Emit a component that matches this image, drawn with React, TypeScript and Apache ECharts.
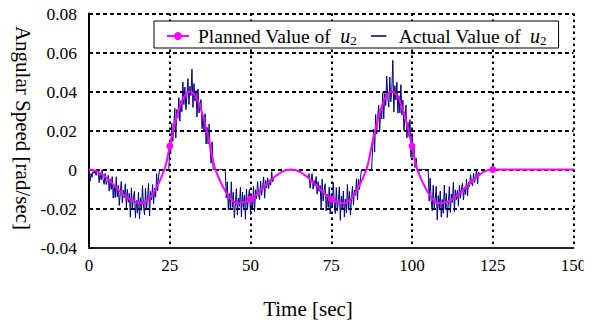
import React, { useEffect, useRef } from "react";
import * as echarts from "echarts";

const PLANNED_NAME = "Planned Value of u2";
const ACTUAL_NAME = "Actual Value of u2";
const X_AXIS_NAME = "Time [sec]";
const Y_AXIS_NAME = "Angular Speed [rad/sec]";

const X_MIN = 0;
const X_MAX = 150;
const X_INTERVAL = 25;
const Y_MIN = -0.04;
const Y_MAX = 0.08;
const Y_INTERVAL = 0.02;

// planned trajectory, sampled every 1.25 s from 0 to 125 s
const PLANNED_STEP = 1.25;
const plannedValues = [
  0, -0.0003, -0.001, -0.0022, -0.0037, -0.0056, -0.0076, -0.0097, -0.0117, -0.0136,
  -0.0151, -0.0163, -0.017, -0.0173, -0.0167, -0.0148, -0.0119, -0.0081, -0.0037, 0.002,
  0.012, 0.0212, 0.029, 0.035, 0.0387, 0.04, 0.0387, 0.035, 0.029, 0.0212,
  0.012, 0.002, -0.0037, -0.0081, -0.0119, -0.0148, -0.0167, -0.0173, -0.017, -0.0163,
  -0.0151, -0.0136, -0.0117, -0.0097, -0.0076, -0.0056, -0.0037, -0.0022, -0.001, -0.0003,
  0, -0.0003, -0.001, -0.0022, -0.0037, -0.0056, -0.0076, -0.0097, -0.0117, -0.0136,
  -0.0151, -0.0163, -0.017, -0.0173, -0.0167, -0.0148, -0.0119, -0.0081, -0.0037, 0.002,
  0.012, 0.0212, 0.029, 0.035, 0.0387, 0.04, 0.0387, 0.035, 0.029, 0.0212,
  0.012, 0.002, -0.0037, -0.0081, -0.0119, -0.0148, -0.0167, -0.0173, -0.017, -0.0163,
  -0.0151, -0.0136, -0.0117, -0.0097, -0.0076, -0.0056, -0.0037, -0.0022, -0.001, -0.0003,
  0,
];
const plannedTailTimes = [137.5, 150];
const plannedTailValues = [0, 0];
const markerTimes = [25, 50, 75, 100, 125];

// measured (noisy) trajectory, sampled every 0.3125 s from 0 to 121.25 s
const ACTUAL_STEP = 0.3125;
const actualValues = [
  // 0 s
  0, -0.006, -0.002, -0.004, -0.001, -0.002, -0.0005, -0.003, -0.001,
  // 2.8 s
  -0.0004, -0.0067, -0.0022, -0.0053, -0.0001, -0.0053, -0.0076, -0.002, -0.0077, -0.0058, -0.003, -0.0111,
  -0.0048, -0.0102, -0.0037, -0.0147, -0.0082, -0.0144, -0.0037, -0.014, -0.0082, -0.0185,
  -0.0119, -0.0061, -0.0171, -0.0106, -0.0145, -0.0073, -0.0196, -0.0102, -0.0168, -0.0123,
  -0.0244, -0.0094, -0.0205, -0.0145, -0.0111, -0.0248, -0.0159, -0.0224, -0.0117, -0.0253,
  -0.0145, -0.0209, -0.0082, -0.0188, -0.0232, -0.0095, -0.0207, -0.0149, -0.0072, -0.0238,
  -0.0113, -0.0155, -0.0077, -0.0175, -0.0096, -0.0142, -0.0021, -0.0109, -0.0035,
  // 21.9 s dead zone
  0, 0, 0, 0, 0, 0, 0, 0, 0, 0,
  // 25 s
  0.0102, 0.008, 0.0238, 0.0144, 0.0221, 0.0313, 0.0161, 0.0307, 0.0263, 0.0368,
  0.0248, 0.0353, 0.0296, 0.0449, 0.0333, 0.0423, 0.0306, 0.0381, 0.0466, 0.0334,
  0.0427, 0.0379, 0.0515, 0.0318, 0.0441, 0.0351, 0.0405, 0.0269, 0.0413, 0.029,
  0.0338, 0.0359, 0.0209, 0.028, 0.0197, 0.0286, 0.0131, 0.0216, 0.013, 0.0233,
  0.0102, 0.0032, 0.0142,
  // 38.4 s dead zone
  0, 0, 0, 0, 0, 0, 0, 0, 0, 0, 0, 0, 0,
  // 42.5 s
  -0.0146, -0.0063, -0.0206, -0.0123, -0.0202, -0.0063, -0.0194, -0.0117, -0.0248, -0.0177,
  -0.0098, -0.0234, -0.0146, -0.019, -0.0091, -0.0243, -0.0116, -0.0195, -0.0131, -0.0255,
  -0.01, -0.0205, -0.0139, -0.01, -0.0232, -0.0138, -0.0198, -0.0086, -0.0217, -0.0104,
  -0.0151, -0.0062, -0.0129, -0.0154, -0.0059, -0.0132, -0.0091, -0.0038, -0.0147, -0.0057,
  -0.0094, -0.0043, -0.0098, -0.0053, -0.008, -0.0011, -0.0063,
  // 57.2 s tracking
  -0.0042, -0.0037, -0.0033, -0.003, -0.0026, -0.0022, -0.0019, -0.0016, -0.0013, -0.001,
  -0.0008, -0.0007, -0.0005, -0.0003, -0.0002, -0.0002, -0.0001, 0, -0.0001, -0.0002,
  -0.0002, -0.0003, -0.0005, -0.0007, -0.0008, -0.001, -0.0013, -0.0016, -0.0019, -0.0022,
  -0.0026, -0.003, -0.0033, -0.0037, -0.0042,
  // 68.1 s
  -0.0022, -0.0096, -0.0061, -0.0021, -0.0101, -0.0056, -0.0086, -0.0036, -0.0127, -0.0062, -0.0112, -0.0082,
  -0.0197, -0.0049, -0.0162, -0.0104, -0.0073, -0.0212, -0.0127, -0.0194, -0.009, -0.0228,
  -0.0124, -0.019, -0.0067, -0.0178, -0.0226, -0.0093, -0.0212, -0.0159, -0.0089, -0.0261,
  -0.0136, -0.0199, -0.011, -0.0244, -0.0152, -0.0223, -0.0077, -0.0198, -0.0113, -0.0234,
  -0.0155, -0.0085, -0.0183, -0.0105, -0.0133, -0.0047, -0.0156, -0.0049, -0.0102, -0.0042,
  // 84.4 s dead zone
  0, 0, 0, 0, 0, 0, 0, 0, 0, 0, 0,
  // 87.8 s
  0.0113, 0.0206, 0.0089, 0.0282, 0.0182, 0.0271, 0.0331, 0.02, 0.0315, 0.026,
  0.0395, 0.026, 0.0389, 0.0329, 0.0478, 0.0367, 0.032, 0.0474, 0.0347, 0.041,
  0.056, 0.0294, 0.043, 0.0357, 0.0448, 0.0289, 0.0379, 0.029, 0.0435, 0.028,
  0.0355, 0.02, 0.0261, 0.0331, 0.0162, 0.0242, 0.0169, 0.0256, 0.0063, 0.018,
  0.0065, 0.011, 0.001, 0.006,
  // 101.6 s dead zone
  0, 0, 0, 0, 0, 0, 0, 0, 0, 0, 0, 0,
  // 105.3 s
  -0.0162, -0.0044, -0.0159, -0.0211, -0.0081, -0.0203, -0.0153, -0.0086, -0.0258, -0.0134,
  -0.0198, -0.011, -0.0244, -0.0154, -0.0225, -0.008, -0.0204, -0.0122, -0.0246, -0.0172,
  -0.0088, -0.022, -0.0127, -0.0169, -0.0066, -0.0216, -0.0104, -0.0154, -0.0107, -0.0187,
  -0.008, -0.0147, -0.01, -0.0071, -0.0156, -0.0091, -0.0128, -0.0051, -0.0135, -0.0064,
  -0.0087, -0.0026, -0.0069, -0.0084, -0.0019, -0.0067, -0.0038, -0.0001, -0.0073, -0.0014,
  -0.0026, -0.0022,
];

const SERIF = "Liberation Serif";
const ACTUAL_ICON = "path://M0,0L0.01,0L0,10Z M3,4.2L17,4.2L17,5.8L3,5.8Z M20,10L19.99,10L20,0Z";

function legendLabel(name: string): string {
  const head = name === PLANNED_NAME ? "Planned Value of" : "Actual Value of";
  return `{t|${head}}{i|u}{s|2}`;
}

export default function App() {
  const ref = useRef<HTMLDivElement>(null);

  useEffect(() => {
    if (!ref.current) return;
    const chart = echarts.init(ref.current, undefined, { renderer: "svg" });

    const plannedData: any[] = plannedValues.map((v, i) => {
      const t = i * PLANNED_STEP;
      if (markerTimes.includes(t)) return { value: [t, v] };
      return { value: [t, v], symbol: "none" };
    });
    plannedTailTimes.forEach((t, i) => {
      plannedData.push({ value: [t, plannedTailValues[i]], symbol: "none" });
    });
    const actualData = actualValues.map((v, i) => [i * ACTUAL_STEP, v]);

    chart.setOption({
      animation: false,
      backgroundColor: "#ffffff",
      textStyle: { fontFamily: SERIF },
      grid: { left: 89, right: 18.5, top: 13.5, bottom: 74.5, containLabel: false },
      legend: {
        data: [{ name: PLANNED_NAME }, { name: ACTUAL_NAME, icon: ACTUAL_ICON }],
        left: 154,
        top: 21,
        orient: "horizontal",
        backgroundColor: "#ffffff",
        borderColor: "#000000",
        borderWidth: 1,
        borderRadius: 0,
        padding: [5, 12, 1, 12],
        itemGap: 11,
        itemWidth: 22,
        itemHeight: 10,
        symbolKeepAspect: false,
        formatter: legendLabel,
        textStyle: {
          color: "#000",
          fontFamily: SERIF,
          fontSize: 19.5,
          rich: {
            t: { fontFamily: SERIF, fontSize: 19.5, color: "#000", lineHeight: 22, padding: [0, 0, 0, 4] },
            i: { fontFamily: SERIF, fontSize: 20, fontStyle: "italic", color: "#000", padding: [0, 0, 0, 9], lineHeight: 22 },
            s: { fontFamily: SERIF, fontSize: 13, color: "#000", verticalAlign: "bottom", lineHeight: 12 },
          },
        },
      },
      xAxis: {
        type: "value",
        min: X_MIN,
        max: X_MAX,
        interval: X_INTERVAL,
        axisLine: { show: true, onZero: false, lineStyle: { color: "#222", width: 2 } },
        axisTick: { show: false },
        axisLabel: { color: "#000", fontFamily: SERIF, fontSize: 17, margin: 9 },
        splitLine: { show: true, lineStyle: { color: "#000", width: 2, type: [2.5, 3.5] } },
      },
      yAxis: {
        type: "value",
        min: Y_MIN,
        max: Y_MAX,
        interval: Y_INTERVAL,
        axisLine: { show: true, onZero: false, lineStyle: { color: "#000", width: 2 } },
        axisTick: { show: true, inside: true, length: 4, lineStyle: { color: "#000", width: 1.5 } },
        axisLabel: {
          color: "#000",
          fontFamily: SERIF,
          fontSize: 17.5,
          margin: 12,
          formatter: (v: number) => (Math.abs(v) < 1e-9 ? "0" : v.toFixed(2)),
        },
        splitLine: { show: true, lineStyle: { color: "#000", width: 2, type: [4, 3] } },
      },
      graphic: [
        {
          type: "text",
          x: 308,
          y: 309,
          style: { text: X_AXIS_NAME, fontFamily: SERIF, fontSize: 21, fill: "#000", align: "center", verticalAlign: "middle" },
        },
        {
          type: "text",
          x: 23,
          y: 128,
          rotation: -Math.PI / 2,
          style: { text: Y_AXIS_NAME, fontFamily: SERIF, fontSize: 21, fill: "#000", align: "center", verticalAlign: "middle" },
        },
        {
          type: "rect",
          z: 100,
          shape: { x: 583.5, y: 252, width: 10, height: 30 },
          style: { fill: "#ffffff" },
        },
      ],
      series: [
        {
          name: ACTUAL_NAME,
          type: "line",
          data: actualData,
          symbol: "none",
          lineStyle: { color: "#000080", width: 1 },
          itemStyle: { color: "#000080" },
          z: 2,
        },
        {
          name: PLANNED_NAME,
          type: "line",
          data: plannedData,
          smooth: 0.4,
          symbol: "circle",
          symbolSize: 7,
          showAllSymbol: true,
          lineStyle: { color: "#ff00ff", width: 2 },
          itemStyle: { color: "#ff00ff" },
          z: 3,
        },
      ],
    });

    return () => chart.dispose();
  }, []);

  return <div ref={ref} style={{ width: 592, height: 322, position: "absolute", left: 0, top: 0 }} />;
}
